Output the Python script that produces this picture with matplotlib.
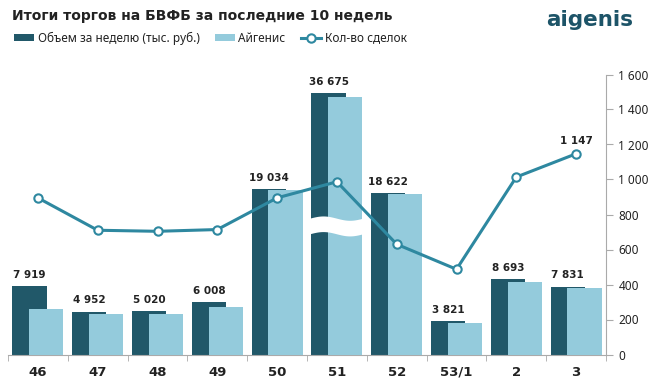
import matplotlib
matplotlib.use("Agg")
import matplotlib.pyplot as plt
import numpy as np
from matplotlib.patches import Patch, Polygon
from matplotlib.lines import Line2D
from matplotlib.ticker import FuncFormatter, FixedLocator

plt.rcParams['font.family'] = ['Noto Sans', 'DejaVu Sans']
BOLD = ['DejaVu Sans']

weeks = ["46", "47", "48", "49", "50", "51", "52", "53/1", "2", "3"]
volume = [7919, 4952, 5020, 6008, 19034, 36675, 18622, 3821, 8693, 7831]
aigenis = [5200, 4670, 4670, 5470, 18950, 36100, 18500, 3600, 8350, 7660]
deals = [895, 710, 704, 714, 895, 987, 630, 487, 1014, 1147]

DARK = "#215869"
LIGHT = "#94CBDC"
LINE = "#2E88A0"
TXT = "#222222"
GRAY = "#AAAAAA"

cap = 30100  # display cap for broken bar

fig = plt.figure(figsize=(6.52, 3.86), dpi=100)
ax = fig.add_axes([8/652, 1-354.5/386, (606-8)/652, 280/386])
x = np.arange(len(weeks))
w = 0.57
off = 0.14

vol_disp = [min(v, cap) for v in volume]
scale = [min(1.0, cap / v) for v in volume]
aig_disp = [a * s for a, s in zip(aigenis, scale)]

ax.bar(x - off, vol_disp, width=w, color=DARK, zorder=2)
ax.bar(x + off, aig_disp, width=w, color=LIGHT, zorder=3)
ax.set_ylim(0, 32250)
ax.set_xlim(-0.5, len(weeks) - 0.5)

# break marker on truncated bar
for i, v in enumerate(volume):
    if v > cap:
        xs = np.linspace(i - off - w/2 - 0.02, i + off + w/2 + 0.02, 60)
        phase = (xs - xs[0]) / (xs[-1] - xs[0]) * 2 * np.pi
        top = 15650 + 250 * np.sin(phase)
        bot = 13850 + 250 * np.sin(phase)
        pts = np.vstack([np.column_stack([xs, top]), np.column_stack([xs[::-1], bot[::-1]])])
        ax.add_patch(Polygon(pts, closed=True, facecolor="white", edgecolor="none", zorder=4))

for i, v in enumerate(volume):
    ax.text(i - off, vol_disp[i] + 700, f"{v:,}".replace(",", " "), ha="center", va="bottom",
            fontsize=7.5, fontweight="bold", family=BOLD, color=TXT, zorder=6)

for s in ["left", "top", "right"]:
    ax.spines[s].set_visible(False)
ax.spines["bottom"].set_color(GRAY)
ax.set_yticks([])
ax.set_xticks(x)
ax.set_xticklabels(weeks, fontsize=9.5, fontweight="bold", family=BOLD, color=TXT)
ax.tick_params(axis="x", which="major", length=0, pad=8)
ax.xaxis.set_minor_locator(FixedLocator(np.arange(-0.5, len(weeks), 1.0)))
ax.tick_params(axis="x", which="minor", length=4, color=GRAY, direction="out")

ax2 = ax.twinx()
ax2.plot(x, deals, color=LINE, lw=2.2, marker="o", markersize=6, markerfacecolor="white",
         markeredgecolor=LINE, markeredgewidth=1.5, zorder=5)
ax2.set_ylim(0, 1600)
ax2.set_yticks(np.arange(0, 1601, 200))
ax2.yaxis.set_major_formatter(FuncFormatter(lambda v, p: f"{int(v):,}".replace(",", " ")))
ax2.tick_params(axis="y", length=5, color=GRAY, labelsize=8.5, labelcolor=TXT, pad=4)
for s in ["left", "top", "bottom"]:
    ax2.spines[s].set_visible(False)
ax2.spines["right"].set_color(GRAY)
ax2.text(x[-1], deals[-1] + 45, f"{deals[-1]:,}".replace(",", " "), ha="center", va="bottom",
         fontsize=7.5, fontweight="bold", family=BOLD, color=TXT)
ax.set_zorder(1)
ax2.set_zorder(2)
ax2.patch.set_visible(False)

fig.text(12/652, 1-16/386, "Итоги торгов на БВФБ за последние 10 недель", fontsize=10,
         fontweight="bold", family=BOLD, color=TXT, va="center", ha="left")
fig.text(633/652, 1-20/386, "aigenis", fontsize=15.5, fontweight="bold", family=BOLD,
         color="#1D5468", va="center", ha="right")

handles = [Patch(facecolor=DARK, edgecolor="none"), Patch(facecolor=LIGHT, edgecolor="none"),
           Line2D([], [], color=LINE, lw=2.2, marker="o", markersize=6, markerfacecolor="white",
                  markeredgecolor=LINE, markeredgewidth=1.5)]
labels = ["Объем за неделю (тыс. руб.)", "Айгенис", "Кол-во сделок"]
fig.legend(handles, labels, loc="center left", bbox_to_anchor=(14/652, 1-38/386), ncol=3,
           frameon=False, fontsize=8.5, handlelength=1.7, handleheight=0.6, handletextpad=0.3,
           columnspacing=1.3, borderpad=0, borderaxespad=0, labelcolor=TXT)

fig.savefig("out.png", dpi=100)
